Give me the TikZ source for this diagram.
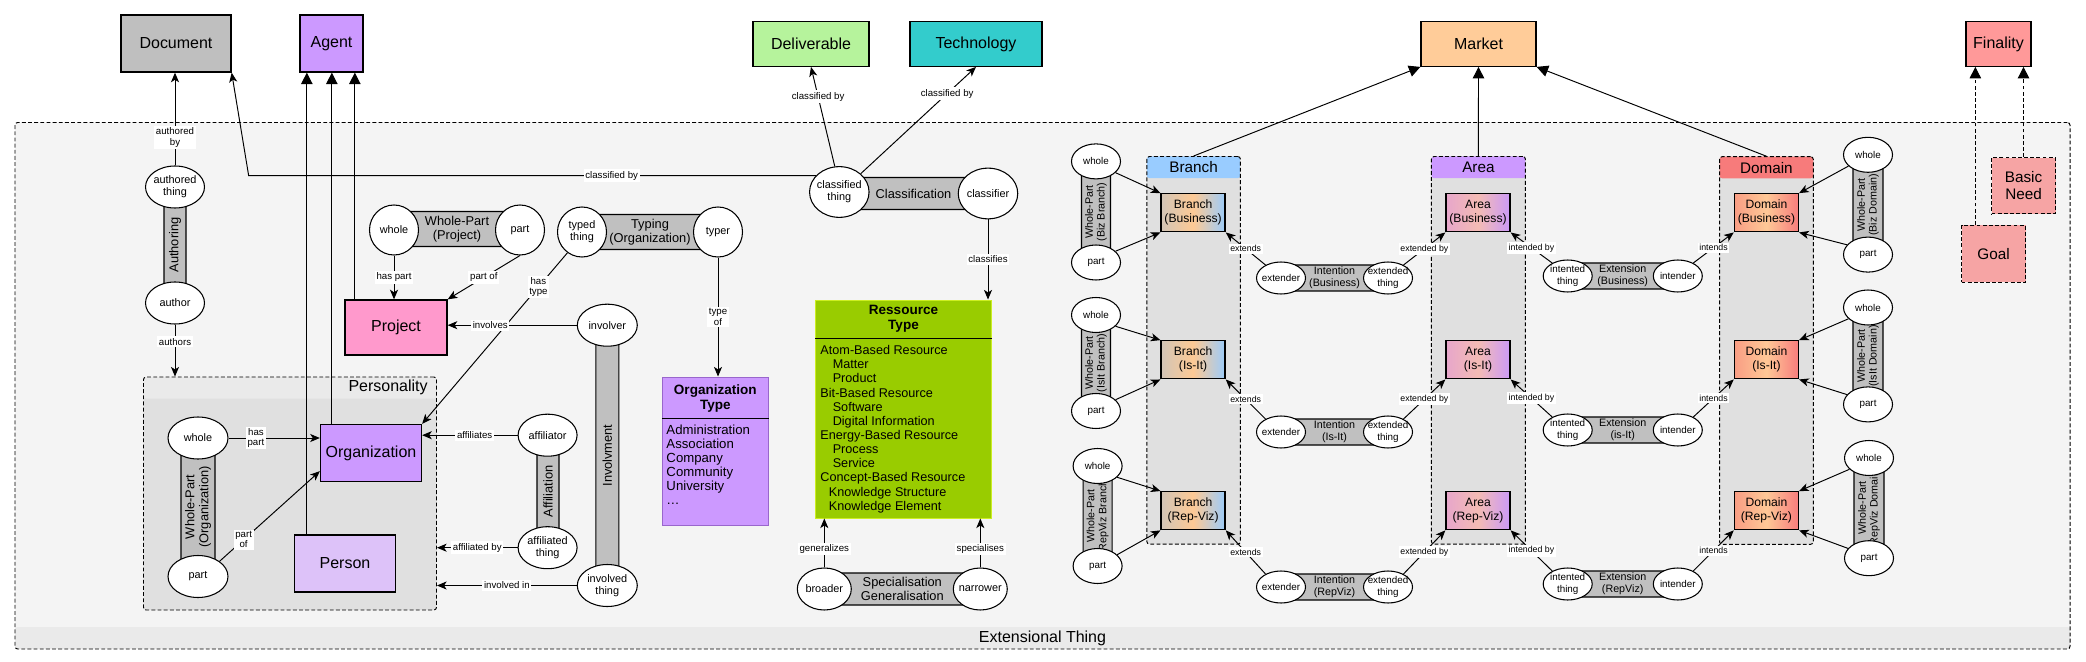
\documentclass[tikz,border=0pt]{standalone}
\usepackage{fontspec}
\setmainfont{Liberation Sans}
\usetikzlibrary{shapes.geometric,arrows.meta,calc}

\definecolor{docgray}{HTML}{BFBFBF}
\definecolor{agentc}{HTML}{CC99FF}
\definecolor{delivc}{HTML}{B6F39C}
\definecolor{techc}{HTML}{33CCCC}
\definecolor{marketc}{HTML}{FFCC99}
\definecolor{finalc}{HTML}{FF9999}
\definecolor{goalc}{HTML}{F6A4A4}
\definecolor{projc}{HTML}{FF99CC}
\definecolor{personc}{HTML}{DDC2F9}
\definecolor{resc}{HTML}{99CC00}
\definecolor{resb}{HTML}{CCEE22}
\definecolor{otb}{HTML}{9966CC}
\definecolor{barc}{HTML}{C0C0C0}
\definecolor{outerc}{HTML}{F4F4F4}
\definecolor{footc}{HTML}{EAEAEA}
\definecolor{grpc}{HTML}{E0E0E0}
\definecolor{branchc}{HTML}{99CCFF}
\definecolor{areac}{HTML}{CC99FF}
\definecolor{domainc}{HTML}{F77B7B}
\definecolor{brl}{HTML}{D2C5B6}
\definecolor{brm}{HTML}{FDC995}
\definecolor{brr}{HTML}{9CCCFA}
\definecolor{arl}{HTML}{E7A6CB}
\definecolor{arm}{HTML}{F4BBB4}
\definecolor{arr}{HTML}{CB9AF7}
\definecolor{dol}{HTML}{F99D84}
\definecolor{dom}{HTML}{FEC896}
\definecolor{dor}{HTML}{F77D7D}

\newcommand\pxu{0.02cm}
\newcommand\fBig{\fontsize{9.1}{10.4}\selectfont}
\newcommand\fGrp{\fontsize{8.7}{9.5}\selectfont}
\newcommand\fBar{\fontsize{7.3}{8}\selectfont}
\newcommand\fHead{\bfseries\fontsize{7.7}{8.6}\selectfont}
\newcommand\fListA{\fontsize{7.5}{8}\selectfont}
\newcommand\fListB{\fontsize{7.2}{8.05}\selectfont}
\newcommand\fBox{\fontsize{6.9}{8}\selectfont}
\newcommand\fRole{\fontsize{6.2}{6.7}\selectfont}
\newcommand\fRoleS{\fontsize{5.6}{6.4}\selectfont}
\newcommand\fInt{\fontsize{6.1}{6.7}\selectfont}
\newcommand\fLbl{\fontsize{5.5}{5.9}\selectfont}
\newcommand\fTiny{\fontsize{5}{5.6}\selectfont}

\begin{document}
\begin{tikzpicture}[x=0.02cm,y=-0.02cm,line width=0.55pt,
  >={Stealth[length=5.5pt,width=4.6pt,inset=1.5pt]},
  gen/.style={-{Triangle[length=6.5pt,width=6.5pt]}},
  dashline/.style={dash pattern=on 2.2pt off 1.3pt},
  box/.style={draw,line width=0.75pt,align=center,inner sep=0pt,font=\fBig},
  sub/.style={box,font=\fBox,minimum width=64*\pxu,minimum height=38*\pxu},
  bsub/.style={sub,left color=brl,right color=brr,middle color=brm},
  asub/.style={sub,left color=arl,right color=arr,middle color=arm},
  dsub/.style={sub,left color=dol,right color=dor,middle color=dom},
  grp/.style={draw,dashline,fill=grpc,rounded corners=1.5pt,inner sep=0pt,
    path picture={\fill[#1] (path picture bounding box.north west) rectangle ([yshift=-21.6*\pxu]path picture bounding box.north east);}},
  bar/.style={draw,fill=barc,rounded corners=2.5pt,line width=0.6pt,inner sep=0pt,align=center,font=\fBar},
  role/.style={ellipse,draw,fill=white,line width=0.6pt,inner sep=-2.5pt,align=center,font=\fRole},
  rolea/.style={role,minimum width=59*\pxu,minimum height=42*\pxu},
  roleb/.style={role,minimum width=49*\pxu,minimum height=50*\pxu},
  rolec/.style={role,minimum width=59.5*\pxu,minimum height=50.7*\pxu},
  roled/.style={role,minimum width=54*\pxu,minimum height=42*\pxu},
  rolee/.style={role,font=\fRoleS,minimum width=49*\pxu,minimum height=32*\pxu},
  rolef/.style={role,font=\fRoleS,minimum width=49*\pxu,minimum height=35*\pxu},
  lbl/.style={fill=white,inner sep=1pt,align=center,font=\fLbl},
  slbl/.style={lbl,font=\fTiny}]

\useasboundingbox (0,0) rectangle (2086,662);

\node[draw,dashline,fill=outerc,rounded corners=1.5pt,inner sep=0pt,minimum width=2055*\pxu,minimum height=526.5*\pxu,
  path picture={\fill[footc] (path picture bounding box.south west) rectangle ([yshift=22*\pxu]path picture bounding box.south east);}]
  (ext) at (1042.5,385.75) {};
\node[font=\fBig] (extT) at (1042.5,638.5) {Extensional Thing};

\node[grp=footc,minimum width=293*\pxu,minimum height=233*\pxu] (persona) at (290,493.5) {};
\node[font=\fBig,anchor=east] (personaT) at (434,387.5) {Personality};
\node[grp=branchc,minimum width=93.6*\pxu,minimum height=387.6*\pxu] (branch) at (1193.6,350.3) {};
\node[font=\fGrp] (branchT) at (1193.6,167.5) {Branch};
\node[grp=areac,minimum width=94*\pxu,minimum height=387.6*\pxu] (area) at (1478.4,350.3) {};
\node[font=\fGrp] (areaT) at (1478.4,167.5) {Area};
\node[grp=domainc,minimum width=93.8*\pxu,minimum height=387.6*\pxu] (domain) at (1766.4,350.5) {};
\node[font=\fGrp] (domainT) at (1766.4,168) {Domain};

\node[box,fill=docgray,minimum width=110*\pxu,minimum height=57*\pxu] (doc) at (176,43.5) {Document};
\node[box,fill=agentc,minimum width=63*\pxu,minimum height=57*\pxu] (agent) at (331.5,43.5) {Agent};
\node[box,fill=delivc,minimum width=116*\pxu,minimum height=44.5*\pxu] (deliv) at (811,44) {Deliverable};
\node[box,fill=techc,minimum width=132*\pxu,minimum height=44.5*\pxu] (tech) at (976,44) {Technology};
\node[box,fill=marketc,minimum width=115*\pxu,minimum height=44.5*\pxu] (market) at (1478.5,44) {Market};
\node[box,fill=finalc,minimum width=65*\pxu,minimum height=44.5*\pxu] (final) at (1998.5,44) {Finality};

\node[bar,rotate=90,minimum width=90*\pxu,minimum height=22*\pxu] (authoring) at (175,245) {Authoring};
\node[rolea] (athing) at (175,187) {authored\\thing};
\node[rolea] (author) at (175,303) {author};

\node[bar,rotate=90,minimum width=120*\pxu,minimum height=34*\pxu] (owp) at (198,507) {Whole-Part\\(Organization)};
\node[rolea,minimum width=60*\pxu] (owhole) at (198,438) {whole};
\node[rolea,minimum width=60*\pxu] (opart) at (198,576.5) {part};
\node[box,fill=agentc,minimum width=101*\pxu,minimum height=57*\pxu] (org) at (371,453) {Organization};
\node[box,fill=personc,minimum width=101*\pxu,minimum height=57*\pxu] (person) at (345,563.5) {Person};

\node[bar,minimum width=126*\pxu,minimum height=35*\pxu] (pwp) at (457,229) {Whole-Part\\(Project)};
\node[roleb] (pwhole) at (394,230) {whole};
\node[roleb] (ppart) at (520,230) {part};
\node[box,fill=projc,minimum width=102*\pxu,minimum height=55*\pxu] (project) at (396,327.5) {Project};

\node[bar,minimum width=136*\pxu,minimum height=35*\pxu] (typing) at (650,232) {Typing\\(Organization)};
\node[roleb] (tthing) at (582,232) {typed\\thing};
\node[roleb] (typer) at (718,232) {typer};

\node[draw=otb,fill=agentc,inner sep=0pt,minimum width=106*\pxu,minimum height=148*\pxu] (otype) at (715.3,451) {};
\draw ($(otype.north west)+(0,42)$) -- ($(otype.north east)+(0,42)$);
\node[font=\fHead,align=center] (otypeT) at (715.3,398.5) {Organization\\Type};
\node[font=\fListA,align=left,anchor=north west,inner sep=0pt] (otypeL) at (666,424.5)
  {Administration\\Association\\Company\\Community\\University\\\dots};

\node[bar,rotate=90,minimum width=250*\pxu,minimum height=23*\pxu] (involv) at (607.3,455.5) {Involvment};
\node[rolea,minimum width=60*\pxu] (involver) at (607.3,325.2) {involver};
\node[rolea,minimum width=60*\pxu] (involved) at (607.3,585.5) {involved\\thing};

\node[bar,rotate=90,minimum width=105*\pxu,minimum height=22*\pxu] (affil) at (548,491.5) {Affiliation};
\node[rolea] (affiliator) at (547.6,435.2) {affiliator};
\node[rolea] (affthing) at (547.6,547.7) {affiliated\\thing};

\node[bar,minimum width=149*\pxu,minimum height=32*\pxu] (classif) at (913.5,193.5) {Classification};
\node[rolec] (cthing) at (839.3,192) {classified\\thing};
\node[rolec] (classifier) at (988,193.5) {classifier};

\node[draw=resb,fill=resc,inner sep=0pt,minimum width=176*\pxu,minimum height=218*\pxu] (rtype) at (903.5,409) {};
\draw ($(rtype.north west)+(0,38.5)$) -- ($(rtype.north east)+(0,38.5)$);
\node[font=\fHead,align=center] (rtypeT) at (903.5,319) {Ressource\\Type};
\node[font=\fListB,align=left,anchor=north west,inner sep=0pt] (rtypeL) at (820,345)
  {Atom-Based Resource\\\hspace*{7pt}Matter\\\hspace*{7pt}Product\\Bit-Based Resource\\\hspace*{7pt}Software\\
   \hspace*{7pt}Digital Information\\Energy-Based Resource\\\hspace*{7pt}Process\\\hspace*{7pt}Service\\
   Concept-Based Resource\\\hspace*{4.8pt}Knowledge Structure\\\hspace*{4.8pt}Knowledge Element};

\node[bar,minimum width=156*\pxu,minimum height=32*\pxu] (specgen) at (902.3,589) {Specialisation\\Generalisation};
\node[roled] (broader) at (824.3,589) {broader};
\node[roled] (narrower) at (980.3,589) {narrower};

\node[box,dashline,fill=goalc,font=\fGrp,minimum width=64*\pxu,minimum height=57*\pxu] (goal) at (1993.5,254) {Goal};
\node[box,dashline,fill=goalc,font=\fGrp,minimum width=64*\pxu,minimum height=56*\pxu] (need) at (2023.5,185.7) {Basic\\Need};

\node[bar,rotate=90,font=\fInt,minimum width=100*\pxu,minimum height=29*\pxu] (bwpA) at (1096,212) {Whole-Part\\(Biz Branch)};
\node[rolef] (bwholeA) at (1096,161.4) {whole};
\node[rolef] (bpartA) at (1096,262.5) {part};
\node[bsub] (bA) at (1193.1,212.8) {Branch\\(Business)};
\node[bar,font=\fInt,minimum width=107*\pxu,minimum height=26*\pxu] (intA) at (1334.5,278) {Intention\\(Business)};
\node[rolee] (extA) at (1281,278) {extender};
\node[rolee] (extdA) at (1388,278) {extended\\thing};
\node[asub] (aA) at (1478,212.8) {Area\\(Business)};
\node[bar,font=\fInt,minimum width=110*\pxu,minimum height=26*\pxu] (xtnA) at (1622.7,276) {Extension\\(Business)};
\node[rolee] (ittA) at (1567.7,276) {intented\\thing};
\node[rolee] (itrA) at (1677.8,276) {intender};
\node[dsub] (dA) at (1766.4,212.8) {Domain\\(Business)};
\node[bar,rotate=90,font=\fInt,minimum width=100*\pxu,minimum height=30*\pxu] (dwpA) at (1868,205) {Whole-Part\\(Biz Domain)};
\node[rolef] (dwholeA) at (1868,154.8) {whole};
\node[rolef] (dpartA) at (1868,254.6) {part};

\node[bar,rotate=90,font=\fInt,minimum width=100*\pxu,minimum height=29*\pxu] (bwpB) at (1096,363) {Whole-Part\\(IsIt Branch)};
\node[rolef] (bwholeB) at (1096,315) {whole};
\node[rolef] (bpartB) at (1096,411) {part};
\node[bsub] (bB) at (1193.1,359.8) {Branch\\(Is-It)};
\node[bar,font=\fInt,minimum width=107*\pxu,minimum height=26*\pxu] (intB) at (1334.5,432) {Intention\\(Is-It)};
\node[rolee] (extB) at (1281,432) {extender};
\node[rolee] (extdB) at (1388,432) {extended\\thing};
\node[asub] (aB) at (1478,359.8) {Area\\(Is-It)};
\node[bar,font=\fInt,minimum width=110*\pxu,minimum height=26*\pxu] (xtnB) at (1622.7,430) {Extension\\(is-It)};
\node[rolee] (ittB) at (1567.7,430) {intented\\thing};
\node[rolee] (itrB) at (1677.8,430) {intender};
\node[dsub] (dB) at (1766.4,359.8) {Domain\\(Is-It)};
\node[bar,rotate=90,font=\fInt,minimum width=100*\pxu,minimum height=30*\pxu] (dwpB) at (1868,356) {Whole-Part\\(IsIt Domain)};
\node[rolef] (dwholeB) at (1868,307.5) {whole};
\node[rolef] (dpartB) at (1868,404.4) {part};

\node[bar,rotate=90,font=\fInt,minimum width=100*\pxu,minimum height=29*\pxu] (bwpC) at (1097.6,516) {Whole-Part\\(RepViz Branch)};
\node[rolef] (bwholeC) at (1097.6,466) {whole};
\node[rolef] (bpartC) at (1097.6,566) {part};
\node[bsub] (bC) at (1193.1,510.7) {Branch\\(Rep-Viz)};
\node[bar,font=\fInt,minimum width=107*\pxu,minimum height=26*\pxu] (intC) at (1334.5,587) {Intention\\(RepViz)};
\node[rolee] (extC) at (1281,587) {extender};
\node[rolee] (extdC) at (1388,587) {extended\\thing};
\node[asub] (aC) at (1478,510.7) {Area\\(Rep-Viz)};
\node[bar,font=\fInt,minimum width=110*\pxu,minimum height=26*\pxu] (xtnC) at (1622.7,584) {Extension\\(RepViz)};
\node[rolee] (ittC) at (1567.7,584) {intented\\thing};
\node[rolee] (itrC) at (1677.8,584) {intender};
\node[dsub] (dC) at (1766.4,510.7) {Domain\\(Rep-Viz)};
\node[bar,rotate=90,font=\fInt,minimum width=100*\pxu,minimum height=30*\pxu] (dwpC) at (1869,508) {Whole-Part\\(RepViz Domain)};
\node[rolef] (dwholeC) at (1869,458) {whole};
\node[rolef] (dpartC) at (1869,558.2) {part};

\coordinate (docknee) at ($(doc.south east)+(17,0)$);
\coordinate (orgpt) at ($(org.south west)+(0,-11)$);
\coordinate (perstop) at ($(person.north west)+(13,0)$);
\coordinate (orgtop) at ($(org.north west)+(12,0)$);
\coordinate (projtop) at ($(project.north west)+(10.5,0)$);
\coordinate (goaltop) at ($(goal.north west)+(14.5,0)$);

\draw[->] (athing.north) -- (athing.north |- doc.south) node[lbl,pos=0.3]{authored\\by};
\draw[->] (author.south) -- (author.south |- persona.north) node[lbl,pos=0.33]{authors};
\draw[->] (cthing.145) -- (cthing.145 -| docknee) node[lbl,pos=0.36]{classified by} -- (doc.south east);
\draw[->] (cthing.100) -- (deliv.south) node[lbl,pos=0.7]{classified by};
\draw[->] (cthing.north east) -- (tech.south) node[lbl,pos=0.75]{classified by};
\draw[->] (classifier.south) -- (classifier.south |- rtype.north) node[lbl,midway]{classifies};
\draw[->] (broader.north) -- (broader.north |- rtype.south) node[lbl,pos=0.38]{generalizes};
\draw[->] (narrower.north) -- (narrower.north |- rtype.south) node[lbl,pos=0.38]{specialises};
\draw[->] (tthing.235) -- (org.north east) node[lbl,pos=0.2]{has\\type};
\draw[->] (typer.south) -- (typer.south |- otype.north) node[lbl,midway]{type\\of};
\draw[->] (pwhole.south) -- (pwhole.south |- project.north) node[lbl,midway]{has part};
\draw[->] (ppart.south) -- (project.north east) node[lbl,midway]{part of};
\draw[->] (involver.west) -- (involver.west -| project.east) node[lbl,pos=0.67]{involves};
\draw[->] (involved.west) -- (involved.west -| persona.east) node[lbl,midway]{involved in};
\draw[->] (affiliator.west) -- (affiliator.west -| org.east) node[lbl,pos=0.45]{affiliates};
\draw[->] (affthing.west) -- (affthing.west -| persona.east) node[lbl,midway]{affiliated by};
\draw[->] (owhole.east) -- (owhole.east -| org.west) node[lbl,pos=0.3]{has\\part};
\draw[->] (opart.north east) -- (orgpt) node[lbl,pos=0.24]{part\\of};

\draw[gen] (perstop) -- (perstop |- agent.south);
\draw[gen] (orgtop) -- (orgtop |- agent.south);
\draw[gen] (projtop) -- (projtop |- agent.south);
\draw[gen] (branch.north) -- (market.south west);
\draw[gen] (area.north) -- (market.south);
\draw[gen] (domain.north) -- (market.south east);
\draw[gen,dashline] (goaltop) -- (goaltop |- final.south);
\draw[gen,dashline] (need.north) -- (need.north |- final.south);

\draw[->] (bwholeA.330) -- (bA.north west);
\draw[->] (bpartA.30) -- (bA.south west);
\draw[->] (extA.140) -- (bA.south east) node[slbl,midway]{extends};
\draw[->] (extdA.40) -- (aA.south west) node[slbl,midway]{extended by};
\draw[->] (ittA.140) -- (aA.south east) node[slbl,midway]{intended by};
\draw[->] (itrA.40) -- (dA.south west) node[slbl,midway]{intends};
\draw[->] (dwholeA.210) -- (dA.north east);
\draw[->] (dpartA.155) -- (dA.south east);

\draw[->] (bwholeB.330) -- (bB.north west);
\draw[->] (bpartB.30) -- (bB.south west);
\draw[->] (extB.140) -- (bB.south east) node[slbl,midway]{extends};
\draw[->] (extdB.40) -- (aB.south west) node[slbl,midway]{extended by};
\draw[->] (ittB.140) -- (aB.south east) node[slbl,midway]{intended by};
\draw[->] (itrB.40) -- (dB.south west) node[slbl,midway]{intends};
\draw[->] (dwholeB.210) -- (dB.north east);
\draw[->] (dpartB.155) -- (dB.south east);

\draw[->] (bwholeC.330) -- (bC.north west);
\draw[->] (bpartC.30) -- (bC.south west);
\draw[->] (extC.140) -- (bC.south east) node[slbl,midway]{extends};
\draw[->] (extdC.40) -- (aC.south west) node[slbl,midway]{extended by};
\draw[->] (ittC.140) -- (aC.south east) node[slbl,midway]{intended by};
\draw[->] (itrC.40) -- (dC.south west) node[slbl,midway]{intends};
\draw[->] (dwholeC.210) -- (dC.north east);
\draw[->] (dpartC.155) -- (dC.south east);

\end{tikzpicture}
\end{document}
